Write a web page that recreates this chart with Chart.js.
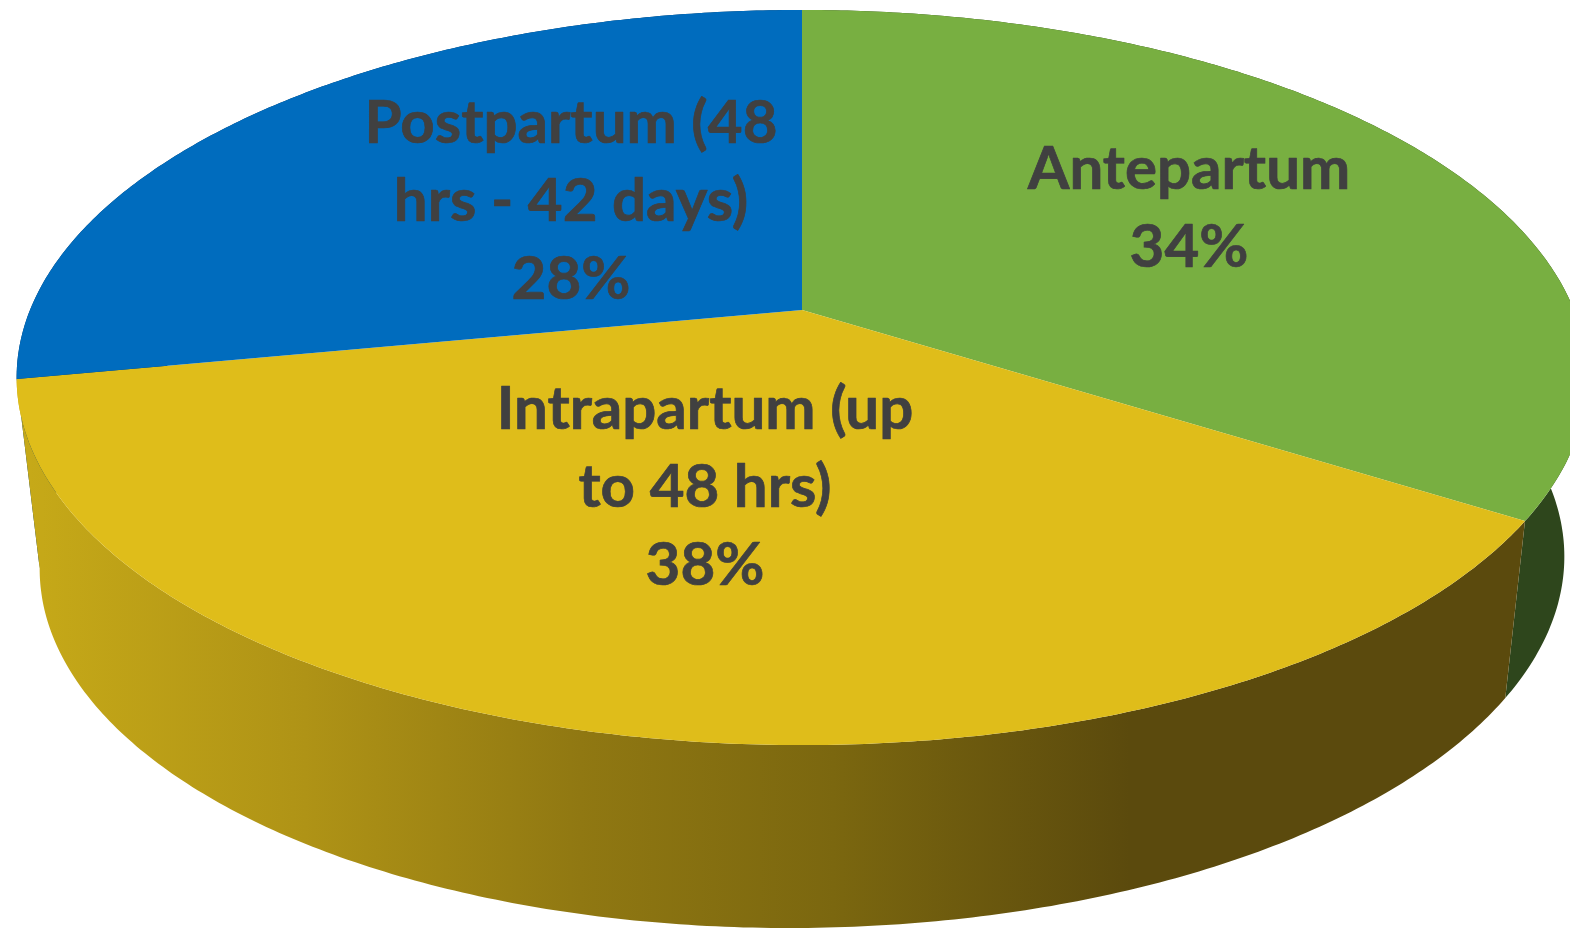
<!DOCTYPE html>
<html><head><meta charset="utf-8">
<style>html,body{margin:0;padding:0;background:#fff;overflow:hidden}canvas{display:block}</style>
<script src="https://cdn.jsdelivr.net/npm/chart.js@4"></script>
</head><body>
<canvas id="c" width="1570" height="928"></canvas>
<script>
const categories = ["Antepartum", "Intrapartum (up to 48 hrs)", "Postpartum (48 hrs - 42 days)"];
const labelLines = [["Antepartum"], ["Intrapartum (up", "to 48 hrs)"], ["Postpartum (48", "hrs - 42 days)"]];
const percentValues = [34, 38, 28];
const topColors = ["#78AF41", "#DFBD1A", "#006CBE"];
const sideColors = ["#2E461C", "#5B4A0D", "#00365F"];

// Perspective view of the pie's flat disc: top plane and bottom plane
const TOP = {cx: 802, a: 772, b: 298.2, c: 310, d: 0, k: -0.1837};
const BOTTOM = {cx: 802, a: 748.6, b: 258.9, c: 493.7, d: -6, k: -0.189};
const LABEL_ANCHOR = [[1189, 170], [705, 410], [571, 124]];
const LINE_H = 78;
const FONT = 'bold 60px Lato, "Open Sans", sans-serif';

function project(P, rAngle, r) {
  const u = r * Math.cos(rAngle), v = r * Math.sin(rAngle); // u right, v toward viewer
  const w = 1 + P.k * v;
  return [P.cx + P.a * u / w, (P.b * v + P.c + P.d * u) / w];
}
function rim(ctx, P, a0, a1, move) {
  const n = Math.max(2, Math.ceil(Math.abs(a1 - a0) / 0.01));
  for (let i = 0; i <= n; i++) {
    const p = project(P, a0 + (a1 - a0) * i / n, 1);
    (i === 0 && move) ? ctx.moveTo(p[0], p[1]) : ctx.lineTo(p[0], p[1]);
  }
}

const pie3d = {
  id: 'pie3d',
  // The controller lays out the arcs; they are drawn here through the perspective map.
  beforeDatasetsDraw(chart) {
    const ctx = chart.ctx, arcs = chart.getDatasetMeta(0).data;
    ctx.save();
    // sides, back to front
    [2, 0, 1].forEach(i => {
      const a = arcs[i];
      ctx.beginPath();
      rim(ctx, TOP, a.startAngle, a.endAngle, true);
      rim(ctx, BOTTOM, a.endAngle, a.startAngle, false);
      ctx.closePath();
      if (i === 1) {
        const g = ctx.createLinearGradient(30, 0, 1130, 0);
        g.addColorStop(0, '#C6A918');
        g.addColorStop(0.25, '#AF9316');
        g.addColorStop(0.5, '#907812');
        g.addColorStop(0.73, '#7B670F');
        g.addColorStop(1, sideColors[1]);
        ctx.fillStyle = g;
      } else ctx.fillStyle = sideColors[i];
      ctx.fill();
    });
    // top face
    arcs.forEach((a, i) => {
      const apex = project(TOP, 0, 0);
      ctx.beginPath();
      ctx.moveTo(apex[0], apex[1]);
      rim(ctx, TOP, a.startAngle, a.endAngle, false);
      ctx.closePath();
      ctx.fillStyle = topColors[i];
      ctx.fill();
    });
    // labels
    ctx.fillStyle = '#404040';
    ctx.strokeStyle = '#404040';
    ctx.lineWidth = 0.7;
    ctx.lineJoin = 'round';
    ctx.font = FONT;
    ctx.textAlign = 'center';
    ctx.textBaseline = 'middle';
    labelLines.forEach((lines, i) => {
      const all = lines.concat([percentValues[i] + '%']);
      all.forEach((t, j) => {
        const x = LABEL_ANCHOR[i][0], y = LABEL_ANCHOR[i][1] + j * LINE_H;
        ctx.fillText(t, x, y);
        ctx.strokeText(t, x, y);
      });
    });
    ctx.restore();
    return false;
  }
};

new Chart(document.getElementById('c'), {
  type: 'pie',
  data: {labels: categories, datasets: [{data: percentValues, backgroundColor: topColors, borderWidth: 0}]},
  options: {
    responsive: false, animation: false,
    layout: {padding: 0},
    plugins: {legend: {display: false}, tooltip: {enabled: false}}
  },
  plugins: [pie3d]
});
</script>
</body></html>
